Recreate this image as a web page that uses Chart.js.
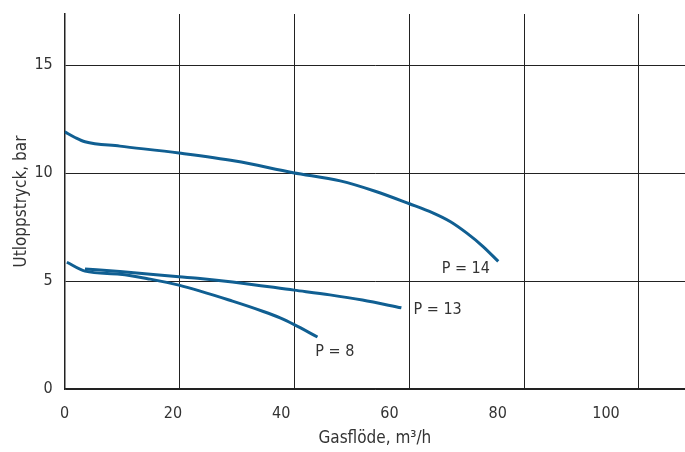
<!DOCTYPE html>
<html>
<head>
<meta charset="utf-8">
<script src="https://cdn.jsdelivr.net/npm/chart.js@4.4.1/dist/chart.umd.min.js"></script>
<style>
  html, body { margin: 0; padding: 0; background: #fff; }
  #wrap { width: 685px; height: 452px; }
</style>
</head>
<body>
<div id="wrap"><canvas id="chartTryck"></canvas></div>
<script>
// kurvor
var p14X = [0, 1.9, 3.75, 10.2, 21.1, 31.5, 42.2, 50.9, 57.5, 63.7, 68.0, 71.2, 74.3, 77.3, 80.1];
var p14Y = [11.91, 11.65, 11.45, 11.25, 10.93, 10.56, 10.02, 9.64, 9.15, 8.58, 8.16, 7.76, 7.22, 6.60, 5.91];

var p13X = [3.75, 10.2, 21.1, 25.0, 31.0, 42.4, 49.0, 55.0, 62.2];
var p13Y = [5.56, 5.44, 5.2, 5.12, 4.96, 4.58, 4.36, 4.12, 3.76];

var p8X = [0.4, 3.75, 10.2, 15.8, 21.1, 31.0, 36.7, 39.8, 42.4, 46.7];
var p8Y = [5.87, 5.46, 5.32, 5.09, 4.81, 4.07, 3.59, 3.29, 2.98, 2.41];

var xTicks = [0, 20, 40, 60, 80, 100];
var xGrid = [0, 21.22, 42.44, 63.66, 84.88, 106.1];
var yTicks = [0, 5, 10, 15];

var kurvNamn = ['P = 14', 'P = 13', 'P = 8'];
var namnX = [74.1, 68.9, 49.9];
var namnY = [5.56, 3.66, 1.71];

var blue = '#105f92';
var textColor = '#333333';
var fontFamily = "'Liberation Sans Narrow', 'DejaVu Sans Condensed', sans-serif";

function toPoints(xs, ys) {
    var pts = [];
    for (var i = 0; i < xs.length; i++) {
        pts.push({ x: xs[i], y: ys[i] });
    }
    return pts;
}

function serie(label, xs, ys) {
    return {
        label: label,
        data: toPoints(xs, ys),
        borderColor: blue,
        borderWidth: 3,
        pointRadius: 0,
        cubicInterpolationMode: 'monotone',
        fill: false
    };
}

var kurvText = {
    id: 'kurvText',
    afterDatasetsDraw: function (chart) {
        var ctx = chart.ctx;
        var sx = chart.scales.x;
        var sy = chart.scales.y;
        ctx.save();
        ctx.font = '16px ' + fontFamily;
        ctx.fillStyle = textColor;
        ctx.textAlign = 'center';
        ctx.textBaseline = 'middle';
        for (var i = 0; i < kurvNamn.length; i++) {
            ctx.fillText(kurvNamn[i], sx.getPixelForValue(namnX[i]), sy.getPixelForValue(namnY[i]));
        }
        ctx.restore();
    }
};

var ctx = document.getElementById('chartTryck');
var chart = new Chart(ctx, {
    type: 'line',
    data: {
        datasets: [
            serie('P = 14', p14X, p14Y),
            serie('P = 13', p13X, p13Y),
            serie('P = 8', p8X, p8Y)
        ]
    },
    options: {
        responsive: true,
        maintainAspectRatio: false,
        animation: false,
        layout: { padding: { top: 14, right: 0, left: 0, bottom: 0 } },
        plugins: {
            legend: { display: false },
            tooltip: { enabled: false }
        },
        scales: {
            x: {
                type: 'linear',
                position: 'bottom',
                min: 0,
                max: 114.6,
                afterBuildTicks: function (axis) {
                    axis.ticks = xTicks.map(function (v) { return { value: v }; });
                },
                afterFit: function (axis) {
                    axis.height = 63;
                    axis.paddingLeft = 0;
                    axis.paddingRight = 0;
                },
                grid: { display: false },
                border: { display: true, color: '#222', width: 1.5 },
                ticks: {
                    padding: 7,
                    maxRotation: 0,
                    color: textColor,
                    font: { family: fontFamily, size: 16 }
                },
                title: {
                    display: true,
                    text: 'Gasflöde, m³/h',
                    color: textColor,
                    font: { family: fontFamily, size: 17 },
                    padding: { top: 4, bottom: 3 }
                }
            },
            xg: {
                type: 'linear',
                position: 'top',
                min: 0,
                max: 114.6,
                afterBuildTicks: function (axis) {
                    axis.ticks = xGrid.map(function (v) { return { value: v }; });
                },
                afterFit: function (axis) {
                    axis.height = 0;
                    axis.paddingLeft = 0;
                    axis.paddingRight = 0;
                },
                grid: { color: '#222', lineWidth: 1, drawTicks: false },
                border: { display: false },
                ticks: { display: false }
            },
            y: {
                type: 'linear',
                min: 0,
                max: 17.37,
                afterBuildTicks: function (axis) {
                    axis.ticks = yTicks.map(function (v) { return { value: v }; });
                },
                afterFit: function (axis) {
                    axis.width = 64.7;
                    axis.paddingTop = 0;
                    axis.paddingBottom = 0;
                },
                grid: { color: '#222', lineWidth: 1, drawTicks: false },
                border: { display: true, color: '#222', width: 1.5 },
                ticks: {
                    padding: 12,
                    color: textColor,
                    font: { family: fontFamily, size: 16 }
                },
                title: {
                    display: true,
                    text: 'Utloppstryck, bar',
                    color: textColor,
                    font: { family: fontFamily, size: 17 },
                    padding: { top: 11, bottom: 0 }
                }
            }
        }
    },
    plugins: [kurvText]
});
</script>
</body>
</html>
